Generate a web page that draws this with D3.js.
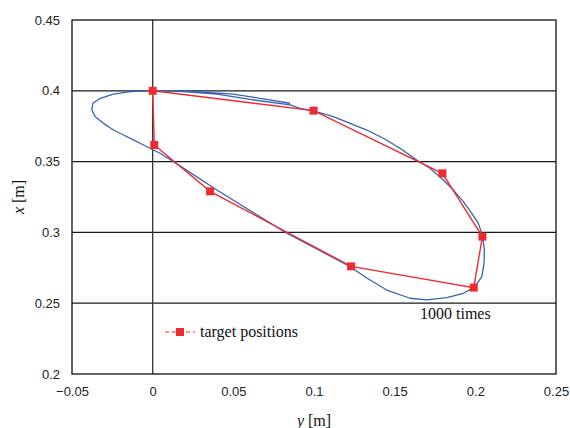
<!DOCTYPE html>
<html>
<head>
<meta charset="utf-8">
<script src="https://cdn.jsdelivr.net/npm/d3@7"></script>
<style>
  html, body { margin: 0; padding: 0; background: #fff; }
  svg { display: block; }
</style>
</head>
<body>
<script>
// Measured trajectory after 1000 repetitions (horizontal: y [m], vertical: x [m])
const trajY = [0.0852, 0.0666, 0.0499, 0.0336, 0.0189, 0.0046, -0.0015, -0.0139, -0.0243, -0.0325,
  -0.0371, -0.0377, -0.0356, -0.0305, -0.0243, -0.0181, -0.0119, -0.0057, -0.0005, 0.0046,
  0.0129, 0.0398, 0.0831, 0.0914, 0.1224, 0.1327, 0.1451, 0.1595, 0.1699, 0.1823,
  0.1926, 0.1998, 0.2040, 0.2054, 0.2056, 0.2046, 0.2019, 0.1978, 0.1926, 0.1864,
  0.1802, 0.1719, 0.1637, 0.1533, 0.1430, 0.1327, 0.1224, 0.1120, 0.1017, 0.0914,
  0.0852, 0.0604, 0.0398, 0.0189, 0.0077];
const trajX = [0.3912, 0.3947, 0.3977, 0.3989, 0.3999, 0.4001, 0.3999, 0.3994, 0.3977, 0.3947,
  0.3912, 0.3864, 0.3817, 0.3770, 0.3723, 0.3688, 0.3653, 0.3617, 0.3587, 0.3559,
  0.3500, 0.3299, 0.2994, 0.2946, 0.2758, 0.2678, 0.2593, 0.2535, 0.2523, 0.2539,
  0.2570, 0.2617, 0.2687, 0.2782, 0.2876, 0.2970, 0.3064, 0.3135, 0.3217, 0.3299,
  0.3370, 0.3453, 0.3511, 0.3594, 0.3665, 0.3723, 0.3770, 0.3817, 0.3852, 0.3876,
  0.3900, 0.3939, 0.3977, 0.3994, 0.4000];

// Target positions (closed polygon, first point repeated at the end)
const targetY = [0, 0.001, 0.0356, 0.123, 0.199, 0.2044, 0.1796, 0.0997, 0];
const targetX = [0.4, 0.3617, 0.329, 0.276, 0.261, 0.297, 0.3417, 0.386, 0.4];

const yTicks = [-0.05, 0, 0.05, 0.1, 0.15, 0.2, 0.25];
const xTicks = [0.2, 0.25, 0.3, 0.35, 0.4, 0.45];
const yTickLabels = ["\u22120.05", "0", "0.05", "0.1", "0.15", "0.2", "0.25"];
const xTickLabels = ["0.2", "0.25", "0.3", "0.35", "0.4", "0.45"];

const W = 570, H = 428;
const m = { left: 72, right: 14, top: 20, bottom: 54 };
const pw = W - m.left - m.right, ph = H - m.top - m.bottom;

const svg = d3.select("body").append("svg").attr("width", W).attr("height", H);
const g = svg.append("g").attr("transform", `translate(${m.left},${m.top})`);

const sx = d3.scaleLinear().domain([-0.05, 0.25]).range([0, pw]);
const sy = d3.scaleLinear().domain([0.2, 0.45]).range([ph, 0]);

// horizontal gridlines
g.append("g").selectAll("line").data(xTicks.filter(v => v > 0.2 && v < 0.45)).join("line")
  .attr("x1", 0).attr("x2", pw)
  .attr("y1", d => sy(d)).attr("y2", d => sy(d))
  .attr("stroke", "#1a1a1a").attr("stroke-width", 1.2);

// vertical line at y = 0
g.append("line")
  .attr("x1", sx(0)).attr("x2", sx(0)).attr("y1", 0).attr("y2", ph)
  .attr("stroke", "#333").attr("stroke-width", 1.3);

// plot frame
g.append("rect").attr("x", 0).attr("y", 0).attr("width", pw).attr("height", ph)
  .attr("fill", "none").attr("stroke", "#111").attr("stroke-width", 1.3);

// axes (labels only)
const xAxis = d3.axisBottom(sx).tickValues(yTicks).tickSize(0).tickPadding(13)
  .tickFormat((d, i) => yTickLabels[i]);
const yAxis = d3.axisLeft(sy).tickValues(xTicks).tickSize(0).tickPadding(12)
  .tickFormat((d, i) => xTickLabels[i]);

const ax = g.append("g").attr("transform", `translate(0,${ph})`).call(xAxis);
const ay = g.append("g").call(yAxis);
[ax, ay].forEach(a => {
  a.select(".domain").remove();
  a.selectAll("text").attr("font-family", "Liberation Sans, Arial, sans-serif")
    .attr("font-size", 13).attr("fill", "#222");
});

// trajectory
const line = d3.line().x(d => sx(d[0])).y(d => sy(d[1]));
g.append("path").datum(trajY.map((v, i) => [v, trajX[i]]))
  .attr("d", line).attr("fill", "none")
  .attr("stroke", "#3563b5").attr("stroke-width", 1.3).attr("stroke-linejoin", "round");

// target positions
const tgt = targetY.map((v, i) => [v, targetX[i]]);
g.append("path").datum(tgt).attr("d", line).attr("fill", "none")
  .attr("stroke", "#ee2b2f").attr("stroke-width", 1.4);
g.append("g").selectAll("rect").data(tgt.slice(0, -1)).join("rect")
  .attr("x", d => sx(d[0]) - 4).attr("y", d => sy(d[1]) - 4)
  .attr("width", 8).attr("height", 8).attr("fill", "#ee2b2f");

// legend
const lg = svg.append("g").attr("transform", "translate(165,332)");
lg.append("line").attr("x1", 0).attr("x2", 30).attr("y1", 0).attr("y2", 0)
  .attr("stroke", "#ee2b2f").attr("stroke-width", 1.2).attr("stroke-dasharray", "4,3");
lg.append("rect").attr("x", 11).attr("y", -4).attr("width", 8).attr("height", 8).attr("fill", "#ee2b2f");
lg.append("text").attr("x", 35).attr("y", 5).text("target positions")
  .attr("font-family", "Liberation Serif, Times New Roman, serif").attr("font-size", 16).attr("fill", "#111");

// annotation
svg.append("text").attr("x", 420).attr("y", 319).text("1000 times")
  .attr("font-family", "Liberation Serif, Times New Roman, serif").attr("font-size", 16).attr("fill", "#111");

// axis titles
const titleFont = "Liberation Serif, Times New Roman, serif";
const xt = svg.append("text").attr("x", m.left + sx(0.1)).attr("y", 426)
  .attr("text-anchor", "middle").attr("font-family", titleFont).attr("font-size", 16).attr("fill", "#111");
xt.append("tspan").attr("font-style", "italic").text("y");
xt.append("tspan").text(" [m]");

const yt = svg.append("text")
  .attr("transform", `translate(24,${m.top + sy(0.325)}) rotate(-90)`)
  .attr("text-anchor", "middle").attr("font-family", titleFont).attr("font-size", 16).attr("fill", "#111");
yt.append("tspan").attr("font-style", "italic").text("x");
yt.append("tspan").text(" [m]");
</script>
</body>
</html>
